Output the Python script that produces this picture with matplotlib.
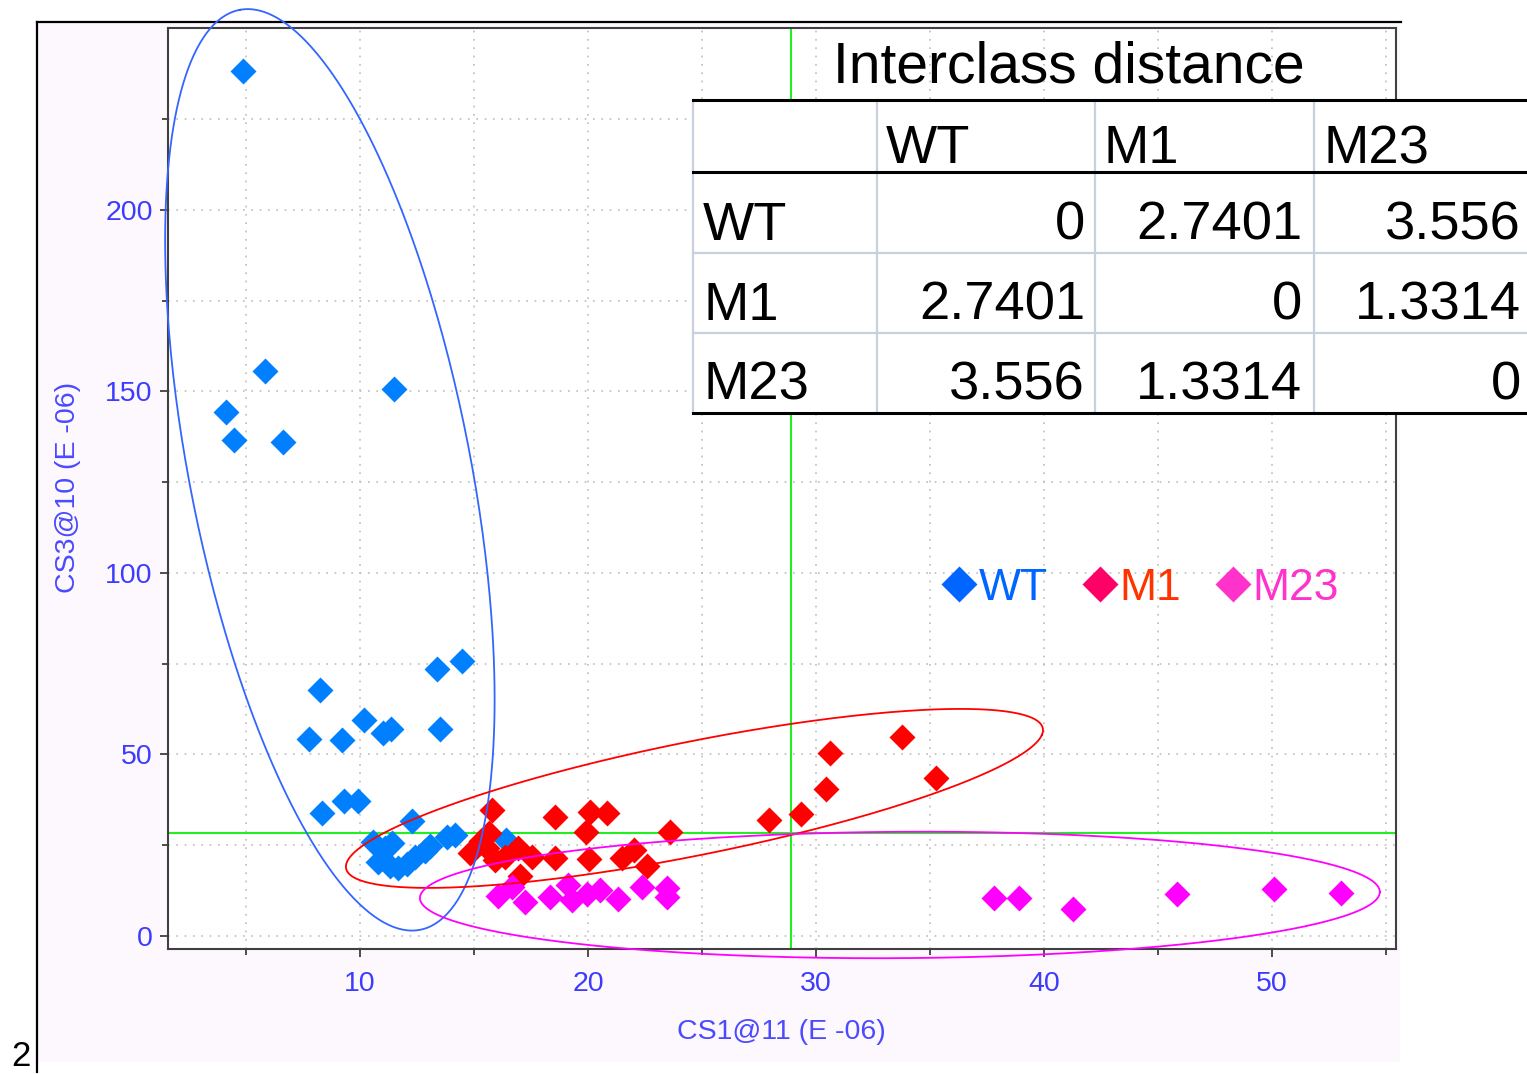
import numpy as np
import matplotlib
matplotlib.use("Agg")
import matplotlib.pyplot as plt
from matplotlib.lines import Line2D
from matplotlib.patches import Rectangle
from matplotlib import font_manager

# ---------------- data ----------------
wt_x = [4.87, 5.83, 4.12, 4.47, 6.62, 11.49, 8.25, 13.38, 14.47, 7.76, 9.21, 10.18,
        11.0, 11.36, 13.51, 8.33, 9.30, 9.91, 12.28, 13.82, 14.17, 10.57, 11.1, 11.4,
        10.79, 11.32, 11.67, 12.06, 12.41, 12.85, 13.07, 16.4]
wt_y = [238.3, 155.6, 144.4, 136.6, 136.1, 150.7, 67.8, 73.6, 75.8, 54.3, 54.0, 59.5,
        55.9, 57.0, 57.0, 33.9, 37.2, 37.2, 31.7, 27.3, 27.8, 25.9, 24.2, 25.6,
        20.4, 19.3, 18.7, 19.8, 21.8, 23.4, 24.8, 26.4]

m1_x = [15.79, 15.66, 15.31, 14.82, 15.57, 15.92, 16.36, 16.93, 17.54, 17.02, 18.55,
        18.55, 20.09, 20.83, 19.91, 20.04, 21.49, 22.02, 22.59, 23.6, 27.94, 29.34,
        30.44, 30.61, 33.77, 35.26]
m1_y = [34.7, 28.4, 26.2, 22.9, 24.2, 20.9, 21.8, 24.2, 21.8, 16.5, 32.8,
        21.5, 34.2, 33.9, 28.7, 21.2, 21.5, 23.7, 19.3, 28.7, 32.0, 33.6,
        40.5, 50.4, 54.8, 43.5]

m23_x = [16.05, 16.67, 17.24, 18.33, 19.12, 19.30, 19.96, 20.53, 21.32, 22.37, 23.46,
         23.46, 37.81, 38.90, 41.27, 45.83, 50.09, 53.03]
m23_y = [11.0, 13.5, 9.4, 10.7, 14.0, 9.9, 11.6, 12.7, 10.2, 13.5, 13.2,
         10.7, 10.5, 10.5, 7.4, 11.6, 12.9, 11.8]

# crosshair (class boundary) lines
cross_x = 28.9
cross_y = 28.4

# class ellipses: centre, half-axis vector A, half-axis vector B (data units)
ell_wt = dict(c=(8.68, 128.4), a=(-3.95, 126.7), b=(6.05, 7.19))
ell_m1 = dict(c=(24.67, 37.9), a=(15.24, 17.5), b=(-1.2, -17.36))
ell_m23 = dict(c=(33.68, 11.3), a=(21.05, 0.83), b=(0.0, -17.4))

classes = ["WT", "M1", "M23"]
distances = [[0, 2.7401, 3.556],
             [2.7401, 0, 1.3314],
             [3.556, 1.3314, 0]]

x_major = [10, 20, 30, 40, 50]
y_major = [0, 50, 100, 150, 200]

# ---------------- fonts ----------------
names = {f.name for f in font_manager.fontManager.ttflist}
NARROW = "Liberation Sans Narrow" if "Liberation Sans Narrow" in names else None
SANS = "Liberation Sans" if "Liberation Sans" in names else "DejaVu Sans"
narrow_fam = [NARROW, SANS] if NARROW else [SANS]
scale_n = 1.0 if NARROW else 0.82
scale_t = 1.0 if NARROW else 0.85

W, H, DPI = 1527, 1074, 100
fig = plt.figure(figsize=(W / DPI, H / DPI), dpi=DPI, facecolor="white")


def fx(px):
    return px / W


def fy(py):
    return 1 - py / H


# outer pinkish frame
fig.add_artist(Rectangle((fx(37), fy(1062)), fx(1400) - fx(37), fy(22) - fy(1062),
                         transform=fig.transFigure, facecolor="#FDF8FD",
                         edgecolor="none", zorder=-10))
fig.add_artist(Line2D([fx(37), fx(1401)], [fy(22), fy(22)], transform=fig.transFigure,
                      color="black", lw=1.6, zorder=-9))
fig.add_artist(Line2D([fx(37), fx(37)], [fy(22), fy(1072)], transform=fig.transFigure,
                      color="black", lw=1.6, zorder=-9))
fig.text(fx(11), fy(1073), "2", fontsize=25, family=SANS, color="black", va="bottom")

# ---------------- axes ----------------
ax = fig.add_axes([fx(168), fy(949), fx(1396) - fx(168), fy(28) - fy(949)])
ax.set_facecolor("white")
ax.set_xlim(1.58, 55.44)
ax.set_ylim(-3.58, 250.1)
ax.set_xticks(x_major)
ax.set_xticks(np.arange(5, 56, 5), minor=True)
ax.set_yticks(y_major)
ax.set_yticks(np.arange(0, 250, 25), minor=True)
ax.grid(which="both", color="#BDBDBD", linestyle=(0, (1, 4)), linewidth=1.2, zorder=0)
ax.set_axisbelow(True)
for s in ax.spines.values():
    s.set_color("#404040")
    s.set_linewidth(1.5)
lab_col = "#3C3CFF"
ax.tick_params(which="both", direction="out", color="#404040", width=1.3,
               labelcolor=lab_col, labelsize=25 * scale_n)
ax.tick_params(which="major", length=6)
ax.tick_params(which="minor", length=4)
ax.tick_params(axis="x", which="both", pad=10)
ax.tick_params(axis="y", which="both", pad=5)
for lab in ax.get_xticklabels() + ax.get_yticklabels():
    lab.set_family(narrow_fam)

ax.set_xlabel("CS1@11 (E -06)", color="#4A4AFF", fontsize=25 * scale_n, family=narrow_fam)
ax.set_ylabel("CS3@10 (E -06)", color="#4A4AFF", fontsize=25 * scale_n, family=narrow_fam)
ax.xaxis.set_label_coords((781 - 168) / 1228, (949 - 1032) / 921)
ax.yaxis.set_label_coords((68 - 168) / 1228, (949 - 487) / 921)
ax.xaxis.label.set_va("center")
ax.yaxis.label.set_va("center")

ax.axvline(cross_x, color="#22EE22", lw=1.5, zorder=1)
ax.axhline(cross_y, color="#22EE22", lw=1.5, zorder=1)

ms = 13.5
ax.plot(wt_x, wt_y, ls="none", marker="D", ms=ms, mec="none", color="#0080FF", zorder=3)
ax.plot(m1_x, m1_y, ls="none", marker="D", ms=ms, mec="none", color="#FF0000", zorder=3)
ax.plot(m23_x, m23_y, ls="none", marker="D", ms=ms, mec="none", color="#FF00FF", zorder=3)

t = np.linspace(0, 2 * np.pi, 400)
for e, col in [(ell_wt, "#3366FF"), (ell_m1, "#FF0000"), (ell_m23, "#FF00FF")]:
    ex = e["c"][0] + np.cos(t) * e["a"][0] + np.sin(t) * e["b"][0]
    ey = e["c"][1] + np.cos(t) * e["a"][1] + np.sin(t) * e["b"][1]
    ax.plot(ex, ey, color=col, lw=1.3, clip_on=False, zorder=4)

# legend
leg_marker_cols = ["#0066FF", "#FF0066", "#FF33CC"]
leg_text_cols = ["#0066FF", "#FF3300", "#FF33CC"]
handles = [Line2D([], [], ls="none", marker="D", ms=18, mec="none", color=c)
           for c in leg_marker_cols]
leg = ax.legend(handles, classes, ncol=3, loc="center",
                bbox_to_anchor=((1141 - 168) / 1228, (949 - 588) / 921),
                frameon=False, prop={"family": SANS, "size": 32},
                handlelength=0.75, handletextpad=0.06, columnspacing=0.8,
                borderpad=0, borderaxespad=0)
for txt, c in zip(leg.get_texts(), leg_text_cols):
    txt.set_color(c)

# ---------------- table ----------------
fig.text(fx(1069), fy(83), "Interclass distance", fontsize=41, family=SANS,
         ha="center", va="baseline", color="black", zorder=6)

col_edges = [693, 877, 1095, 1314, 1527]
row_edges = [100, 172, 253, 333, 413]
fig.add_artist(Rectangle((fx(col_edges[0]), fy(row_edges[-1])),
                         fx(col_edges[-1]) - fx(col_edges[0]),
                         fy(row_edges[0]) - fy(row_edges[-1]),
                         transform=fig.transFigure, facecolor="white",
                         edgecolor="none", zorder=5))
grid_col = "#C8D0DE"
for xe in col_edges[:-1]:
    fig.add_artist(Line2D([fx(xe), fx(xe)], [fy(row_edges[0]), fy(row_edges[-1])],
                          transform=fig.transFigure, color=grid_col, lw=1.6, zorder=5.5))
for ye in row_edges[2:-1]:
    fig.add_artist(Line2D([fx(col_edges[0]), fx(col_edges[-1])], [fy(ye), fy(ye)],
                          transform=fig.transFigure, color=grid_col, lw=1.6, zorder=5.5))
for ye in [row_edges[0], row_edges[1], row_edges[-1]]:
    fig.add_artist(Line2D([fx(col_edges[0]), fx(col_edges[-1])], [fy(ye), fy(ye)],
                          transform=fig.transFigure, color="black", lw=2.2, zorder=5.6))

tfs = 46 * scale_t
baselines = [163, 240, 320, 400]
right_x = [1085, 1302, 1521]
for j, name in enumerate(classes):
    fig.text(fx(col_edges[j + 1] + 9), fy(baselines[0]), name, fontsize=tfs,
             family=narrow_fam, ha="left", va="baseline", zorder=6)
for i, name in enumerate(classes):
    fig.text(fx(703), fy(baselines[i + 1]), name, fontsize=tfs,
             family=narrow_fam, ha="left", va="baseline", zorder=6)
    for j in range(3):
        fig.text(fx(right_x[j]), fy(baselines[i + 1]), f"{distances[i][j]:g}",
                 fontsize=tfs, family=narrow_fam, ha="right", va="baseline", zorder=6)

fig.savefig("out.png", dpi=DPI, facecolor="white")
